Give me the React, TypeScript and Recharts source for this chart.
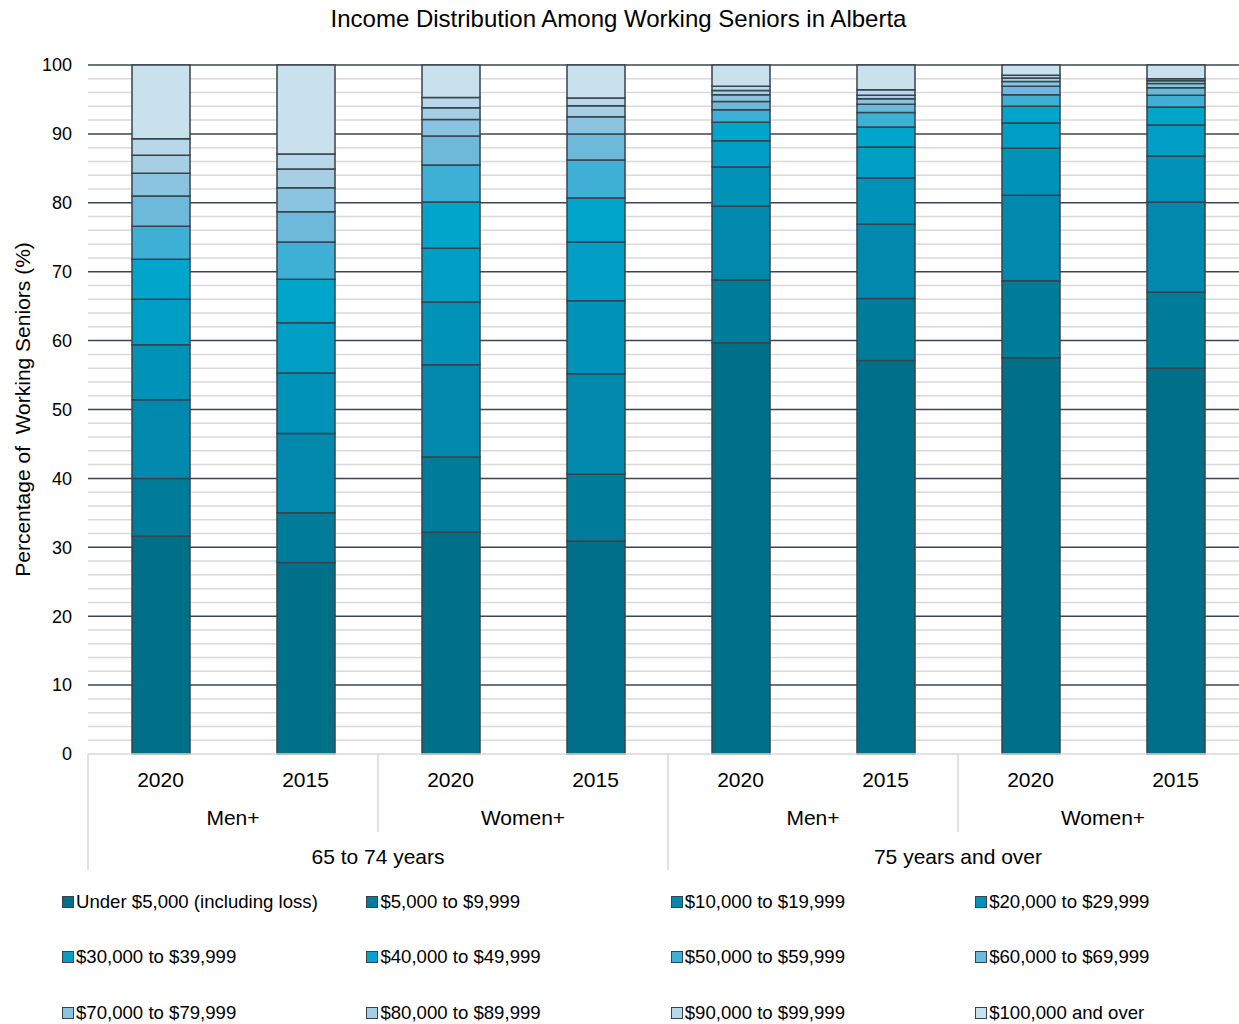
import React from 'react';
import { BarChart, Bar, XAxis, YAxis, CartesianGrid, Legend } from 'recharts';

const FONT = '"Liberation Sans", Arial, Helvetica, sans-serif';
const TEXT = '#000000';
const OUTLINE = '#37434d';
const MAJOR_GRID = '#3b4650';
const MINOR_GRID = '#d9d9d9';

const CHART_W = 1248;
const CHART_H = 1024;
const Y_AXIS_W = 88;
const X_AXIS_H = 116;
const LEGEND_H = 154;

// Category hierarchy for each bar (age group -> gender -> census year)
const CATEGORY_AGE = [
  '65 to 74 years', '65 to 74 years', '65 to 74 years', '65 to 74 years',
  '75 years and over', '75 years and over', '75 years and over', '75 years and over',
];
const CATEGORY_GENDER = ['Men+', 'Men+', 'Women+', 'Women+', 'Men+', 'Men+', 'Women+', 'Women+'];
const CATEGORY_YEAR = ['2020', '2015', '2020', '2015', '2020', '2015', '2020', '2015'];

// Share of working seniors (%) in each income bracket, one value per bar
const UNDER_5K = [31.6, 27.8, 32.2, 30.9, 59.7, 57.1, 57.5, 56.0];
const FROM_5K = [8.4, 7.2, 10.9, 9.7, 9.1, 9.0, 11.2, 11.0];
const FROM_10K = [11.4, 11.5, 13.4, 14.6, 10.7, 10.8, 12.4, 13.1];
const FROM_20K = [8.0, 8.8, 9.1, 10.6, 5.7, 6.7, 6.8, 6.7];
const FROM_30K = [6.6, 7.3, 7.8, 8.5, 3.8, 4.5, 3.7, 4.5];
const FROM_40K = [5.8, 6.3, 6.7, 6.4, 2.7, 2.9, 2.4, 2.6];
const FROM_50K = [4.8, 5.4, 5.4, 5.5, 1.8, 2.1, 1.7, 1.7];
const FROM_60K = [4.4, 4.4, 4.2, 3.8, 1.2, 1.2, 1.2, 1.1];
const FROM_70K = [3.3, 3.5, 2.4, 2.5, 1.0, 0.8, 0.7, 0.6];
const FROM_80K = [2.6, 2.7, 1.7, 1.6, 0.6, 0.5, 0.5, 0.4];
const FROM_90K = [2.4, 2.2, 1.5, 1.1, 0.6, 0.8, 0.4, 0.3];
const FROM_100K = [10.7, 12.9, 4.7, 4.8, 3.1, 3.6, 1.5, 2.0];

const BRACKET_LABELS = [
  'Under $5,000 (including loss)',
  '$5,000 to $9,999',
  '$10,000 to $19,999',
  '$20,000 to $29,999',
  '$30,000 to $39,999',
  '$40,000 to $49,999',
  '$50,000 to $59,999',
  '$60,000 to $69,999',
  '$70,000 to $79,999',
  '$80,000 to $89,999',
  '$90,000 to $99,999',
  '$100,000 and over',
];

const BRACKET_VALUES = [
  UNDER_5K, FROM_5K, FROM_10K, FROM_20K, FROM_30K, FROM_40K,
  FROM_50K, FROM_60K, FROM_70K, FROM_80K, FROM_90K, FROM_100K,
];

const BRACKET_COLORS = [
  '#006f88', '#007c9b', '#0088ad', '#0093b7', '#009dc4', '#00a5cc',
  '#3eb0d6', '#6db9da', '#8bc4e0', '#a6cfe4', '#b8d8ea', '#c9e1ed',
];

const Y_TICKS = [0, 10, 20, 30, 40, 50, 60, 70, 80, 90, 100];
const MAJOR_LINES = [10, 20, 30, 40, 50, 60, 70, 80, 90, 100];
const MINOR_LINES = [
  2, 4, 6, 8, 12, 14, 16, 18, 22, 24, 26, 28, 32, 34, 36, 38, 42, 44, 46, 48,
  52, 54, 56, 58, 62, 64, 66, 68, 72, 74, 76, 78, 82, 84, 86, 88, 92, 94, 96, 98,
];

const data = CATEGORY_YEAR.map((year, i) => {
  const row: Record<string, string | number> = { id: `c${i}`, year };
  BRACKET_VALUES.forEach((vals, k) => {
    row[`b${k}`] = vals[i];
  });
  return row;
});

const BAND = (CHART_W - Y_AXIS_W) / data.length;

const yPos = (axis: any, v: number): number => {
  const s = axis?.scale;
  if (!s) return NaN;
  return typeof s === 'function' ? s(v) : s.map(v);
};

const groupSpan = (keys: string[], i: number): number => {
  let n = 1;
  while (i + n < keys.length && keys[i + n] === keys[i]) n += 1;
  return n;
};

const GENDER_KEYS = CATEGORY_GENDER.map((g, i) => `${CATEGORY_AGE[i]}|${g}`);

const CategoryTick = (props: any) => {
  const { x, y, payload } = props;
  const i: number = payload.index;
  const parts: React.ReactNode[] = [];
  const textProps = {
    textAnchor: 'middle' as const,
    dominantBaseline: 'central' as const,
    fontFamily: FONT,
    fontSize: 21,
    fill: TEXT,
  };
  parts.push(
    <text key="yr" x={x} y={y + 25} {...textProps}>
      {CATEGORY_YEAR[i]}
    </text>,
  );
  const genderStart = i === 0 || GENDER_KEYS[i] !== GENDER_KEYS[i - 1];
  const ageStart = i === 0 || CATEGORY_AGE[i] !== CATEGORY_AGE[i - 1];
  if (genderStart) {
    const n = groupSpan(GENDER_KEYS, i);
    parts.push(
      <text key="gd" x={x + ((n - 1) / 2) * BAND} y={y + 63} {...textProps}>
        {CATEGORY_GENDER[i]}
      </text>,
    );
    if (!ageStart) {
      parts.push(
        <line key="gs" x1={x - BAND / 2} x2={x - BAND / 2} y1={y} y2={y + 78} stroke={MINOR_GRID} strokeWidth={1.5} />,
      );
    }
  }
  if (ageStart) {
    const n = groupSpan(CATEGORY_AGE, i);
    parts.push(
      <text key="ag" x={x + ((n - 1) / 2) * BAND} y={y + 102} {...textProps}>
        {CATEGORY_AGE[i]}
      </text>,
    );
    parts.push(
      <line key="as" x1={x - BAND / 2} x2={x - BAND / 2} y1={y} y2={y + 116} stroke={MINOR_GRID} strokeWidth={1.5} />,
    );
  }
  return <g>{parts}</g>;
};

const YLabel = (props: any) => {
  const vb = props.viewBox || {};
  const cy = (vb.y ?? 0) + (vb.height ?? 0) / 2;
  return (
    <text
      x={22}
      y={cy}
      transform={`rotate(-90 22 ${cy})`}
      textAnchor="middle"
      dominantBaseline="central"
      fontFamily={FONT}
      fontSize={21}
      fill={TEXT}
      style={{ whiteSpace: 'pre' }}
    >
      {'Percentage of  Working Seniors (%)'}
    </text>
  );
};

const LegendBlock = () => (
  <div
    style={{
      boxSizing: 'border-box',
      height: LEGEND_H,
      paddingTop: 4,
      paddingLeft: 62,
      display: 'grid',
      gridTemplateColumns: 'repeat(4, 304.4px)',
      gridAutoRows: '55.5px',
      fontFamily: FONT,
      fontSize: 18.6,
      color: TEXT,
    }}
  >
    {BRACKET_LABELS.map((label, k) => (
      <div key={label} style={{ display: 'flex', alignItems: 'center', whiteSpace: 'nowrap' }}>
        <span
          style={{
            display: 'inline-block',
            boxSizing: 'border-box',
            width: 12,
            height: 12,
            background: BRACKET_COLORS[k],
            border: `1.5px solid ${OUTLINE}`,
            marginRight: 2,
          }}
        />
        <span>{label}</span>
      </div>
    ))}
  </div>
);

export default function App() {
  return (
    <div
      style={{
        position: 'absolute',
        left: 0,
        top: 0,
        width: 1239,
        height: 1024,
        overflow: 'hidden',
        background: '#ffffff',
      }}
    >
      <div
        style={{
          position: 'absolute',
          left: 0,
          top: 5,
          width: 1237,
          textAlign: 'center',
          fontFamily: FONT,
          fontSize: 24,
          lineHeight: '28px',
          color: TEXT,
          zIndex: 2,
        }}
      >
        Income Distribution Among Working Seniors in Alberta
      </div>
      <BarChart
        width={CHART_W}
        height={CHART_H}
        data={data}
        margin={{ top: 65, right: 0, bottom: 0, left: 0 }}
        barSize={58}
      >
        <CartesianGrid
          vertical={false}
          stroke={MINOR_GRID}
          strokeWidth={1.5}
          horizontalCoordinatesGenerator={(p: any) => MINOR_LINES.map((v) => yPos(p.yAxis, v))}
        />
        <CartesianGrid
          vertical={false}
          stroke={MAJOR_GRID}
          strokeWidth={1.5}
          horizontalCoordinatesGenerator={(p: any) => MAJOR_LINES.map((v) => yPos(p.yAxis, v))}
        />
        <XAxis
          dataKey="id"
          height={X_AXIS_H}
          interval={0}
          tickLine={false}
          tickSize={0}
          tickMargin={0}
          axisLine={{ stroke: MINOR_GRID, strokeWidth: 1.5 }}
          tick={<CategoryTick />}
        />
        <YAxis
          width={Y_AXIS_W}
          domain={[0, 100]}
          ticks={Y_TICKS}
          interval={0}
          tickLine={false}
          axisLine={false}
          tickSize={0}
          tickMargin={16}
          tick={{ fontFamily: FONT, fontSize: 18, fill: TEXT }}
          label={<YLabel />}
        />
        <Legend verticalAlign="bottom" content={() => <LegendBlock />} wrapperStyle={{ left: 0, width: 1239 }} />
        {BRACKET_LABELS.map((label, k) => (
          <Bar
            key={label}
            dataKey={`b${k}`}
            name={label}
            stackId="income"
            fill={BRACKET_COLORS[k]}
            stroke={OUTLINE}
            strokeWidth={1.5}
            isAnimationActive={false}
          />
        ))}
      </BarChart>
    </div>
  );
}
